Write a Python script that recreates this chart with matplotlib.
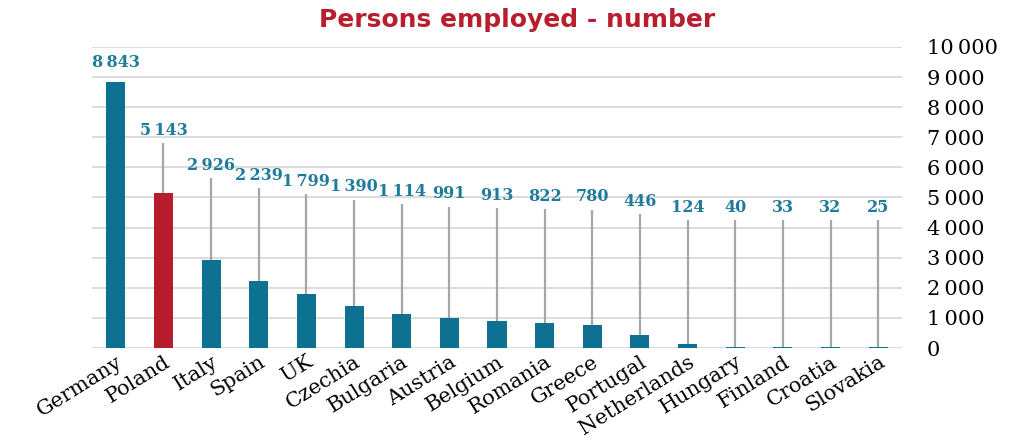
import numpy as np
import matplotlib
matplotlib.use('Agg')
import matplotlib.pyplot as plt

# Datos
countries = ['Germany', 'Poland', 'Italy', 'Spain', 'UK', 'Czechia', 'Bulgaria',
             'Austria', 'Belgium', 'Romania', 'Greece', 'Portugal', 'Netherlands',
             'Hungary', 'Finland', 'Croatia', 'Slovakia']
employed = [8843, 5143, 2926, 2239, 1799, 1390, 1114, 991, 913, 822, 780, 446, 124,
            40, 33, 32, 25]
# altura donde termina la linea gris (y empieza la etiqueta)
leader_top = [9070, 6810, 5650, 5320, 5120, 4930, 4780, 4700, 4660, 4620, 4600,
              4450, 4260, 4240, 4240, 4240, 4240]
y_ticks = [0, 1000, 2000, 3000, 4000, 5000, 6000, 7000, 8000, 9000, 10000]

teal = '#0f7192'
red = '#b61c2b'
colors = [red if c == 'Poland' else teal for c in countries]

def fmt(v):
    return f'{v:,}'.replace(',', '\u2009')

fig = plt.figure(figsize=(10.22, 4.43), dpi=100)
ax = fig.add_axes([0.090, 0.2144, 0.7926, 0.6796])

x = np.arange(len(countries))

# Lineas guia grises
ax.vlines(x[1:], 0, leader_top[1:], color='#a6a6a6', lw=1.6, zorder=2)

# Barras
ax.bar(x, employed, width=0.4, color=colors, linewidth=0, zorder=3)

# Etiquetas de valores
for xi, top, v in zip(x, leader_top, employed):
    ax.annotate(fmt(v), (xi, top), xytext=(0, 3), textcoords='offset points',
                ha='center', va='bottom', fontsize=11.5, fontweight='bold',
                family='DejaVu Serif', color='#1f7b9b', zorder=4)

ax.set_xlim(-0.5, len(countries) - 0.5)
ax.set_ylim(0, 10000)
ax.set_yticks(y_ticks)
ax.set_yticklabels([fmt(t) for t in y_ticks], family='DejaVu Serif', fontsize=15)
ax.yaxis.tick_right()
ax.tick_params(axis='y', length=0, pad=18)
ax.grid(axis='y', color='#d9d9d9', lw=1.3, zorder=0)
ax.set_axisbelow(True)

ax.set_xticks(x)
ax.set_xticklabels(countries, rotation=32, ha='right', va='top',
                   rotation_mode='anchor', family='DejaVu Serif', fontsize=15)
ax.tick_params(axis='x', length=0, pad=3)

for s in ax.spines.values():
    s.set_visible(False)

fig.text(0.506, 0.955, 'Persons employed - number', ha='center', va='center',
         fontsize=18, fontweight='bold', color='#b81e2e', family='DejaVu Sans')

plt.savefig('out.png', dpi=100)
